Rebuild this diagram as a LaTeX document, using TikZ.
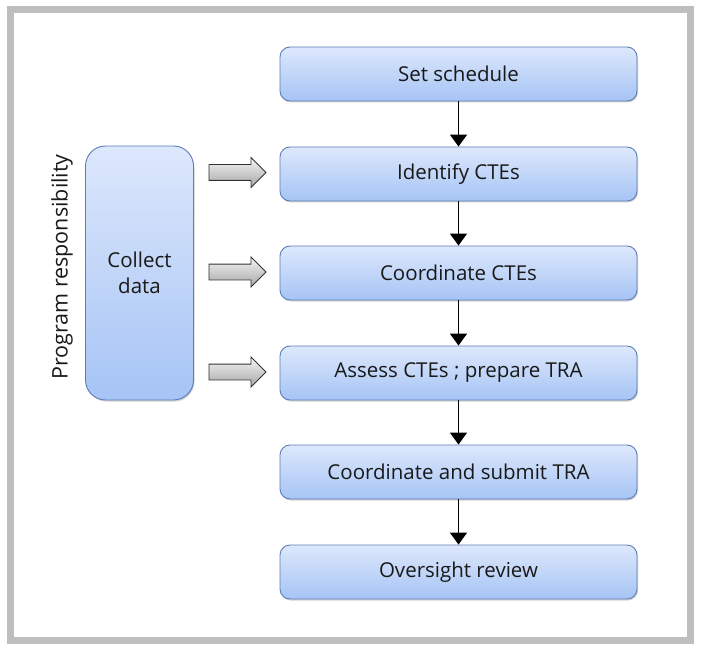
\documentclass[tikz,border=0pt]{standalone}
\usepackage{fontspec}
\setmainfont{Open Sans}
\usetikzlibrary{shapes.arrows,shadows,arrows.meta}
\definecolor{boxtop}{HTML}{DDE8FC}
\definecolor{boxbot}{HTML}{A6C4F5}
\definecolor{boxline}{HTML}{5E7DB5}
\definecolor{framegray}{HTML}{BEBEBE}
\tikzset{
  procbox/.style={draw=boxline, line width=0.9pt, rounded corners=10pt,
    top color=boxtop, bottom color=boxbot, minimum width=357pt, minimum height=54pt,
    inner sep=0pt, font=\fontsize{20.5}{22}\selectfont, text=black!90,
    drop shadow={opacity=0.35, shadow xshift=1pt, shadow yshift=-1.5pt}},
  sidebox/.style={procbox, rounded corners=20pt, minimum width=108pt, minimum height=254pt, align=center,
    font=\fontsize{20.5}{26}\selectfont},
  blockarrow/.style={single arrow, draw=black!80, line width=0.9pt, top color=black!4, bottom color=black!35,
    minimum height=57pt, single arrow head extend=7pt, inner xsep=0pt, inner ysep=7.5pt,
    shape border rotate=0},
  flow/.style={line width=1.6pt, -{Triangle[width=17pt,length=12pt]}}
}
\begin{document}
\begin{tikzpicture}[x=1pt,y=-1pt]
\useasboundingbox (0,0) rectangle (706,652);
\fill[white] (0,0) rectangle (706,652);
\draw[framegray, line width=7pt] (10,10) rectangle (690,640);
\node[procbox] (s1) at (458.5,74) {Set schedule};
\node[procbox] (s2) at (458.5,174) {Identify CTEs};
\node[procbox] (s3) at (458.5,273) {Coordinate CTEs};
\node[procbox] (s4) at (458.5,373) {Assess CTEs ; prepare TRA};
\node[procbox] (s5) at (458.5,472) {Coordinate and submit TRA};
\node[procbox] (s6) at (458.5,572) {Oversight review};
\node[sidebox] (cd) at (139.5,273) {Collect\\data};
\node[rotate=90, font=\fontsize{21.5}{24}\selectfont, text=black!90] (pr) at (62,267) {Program responsibility};
\node[blockarrow] (a1) at (233.5,172.5) {};
\node[blockarrow] (a2) at (233.5,272) {};
\node[blockarrow] (a3) at (233.5,372) {};
\draw[flow] (s1) -- (s2);
\draw[flow] (s2) -- (s3);
\draw[flow] (s3) -- (s4);
\draw[flow] (s4) -- (s5);
\draw[flow] (s5) -- (s6);
\end{tikzpicture}
\end{document}
